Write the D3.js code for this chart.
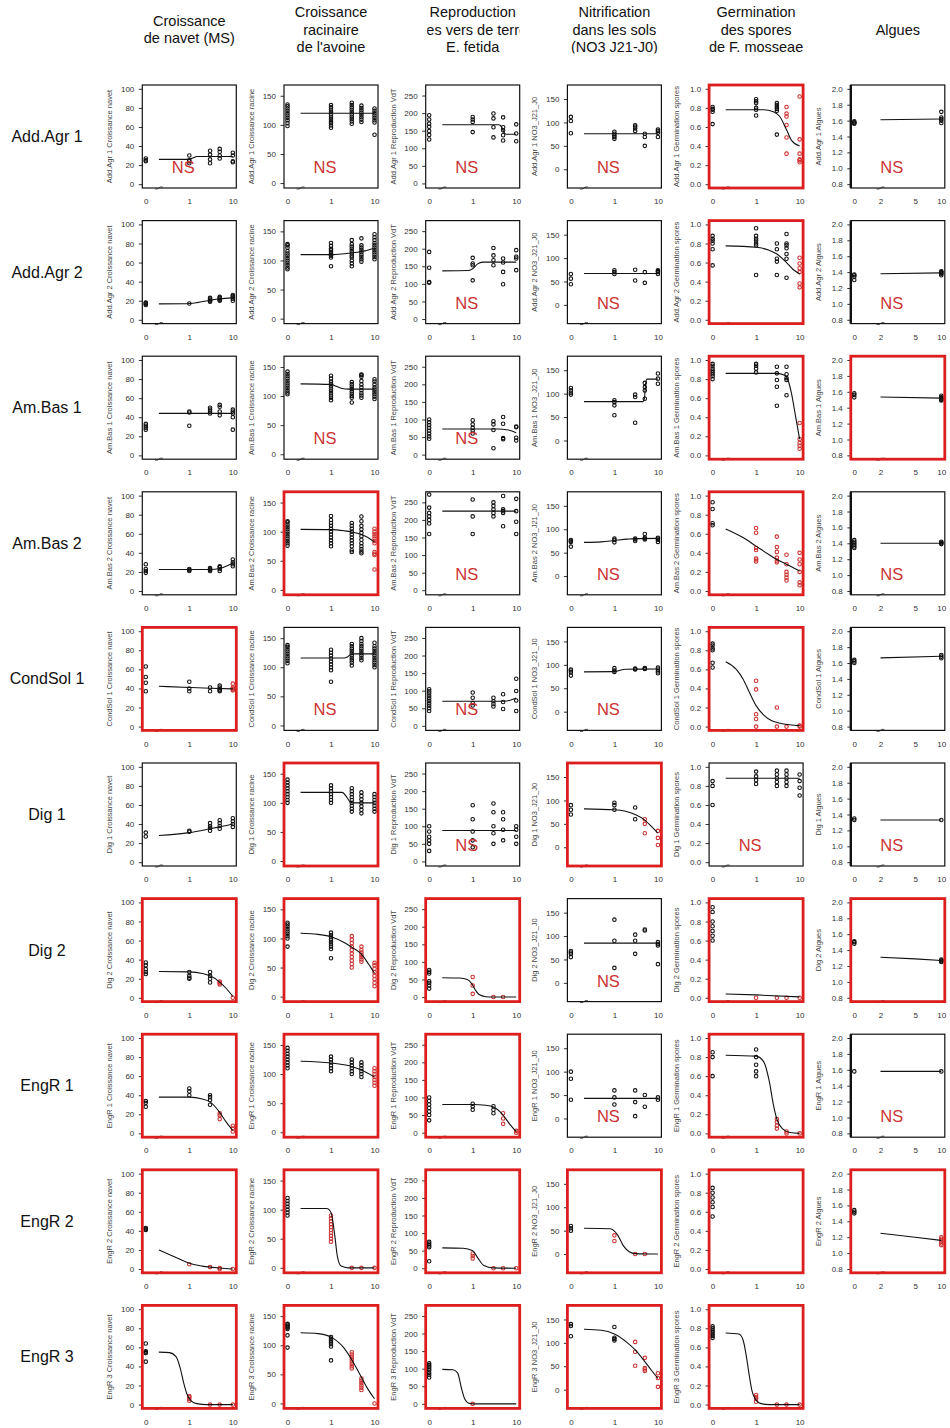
<!DOCTYPE html>
<html><head><meta charset="utf-8">
<script src="https://cdn.jsdelivr.net/npm/d3@7"></script>
<style>body{margin:0;background:#fff;} svg{display:block;font-family:"Liberation Sans",Arial,sans-serif;}</style>
</head><body><svg id="c" width="950" height="1428"></svg>
<script>
// ---------- labels ----------
const rowLabels = ["Add.Agr 1","Add.Agr 2","Am.Bas 1","Am.Bas 2","CondSol 1","Dig 1","Dig 2","EngR 1","EngR 2","EngR 3"];
const colTitles = [["Croissance","de navet (MS)"],["Croissance","racinaire","de l'avoine"],["Reproduction","des vers de terre","E. fetida"],["Nitrification","dans les sols","(NO3 J21-J0)"],["Germination","des spores","de F. mosseae"],["Algues"]];
const yLabelSuffix = ["Croissance navet","Croissance racine","Reproduction VdT","NO3_J21_J0","Germination spores","Algues"];
const yTicks = [[0,20,40,60,80,100],[0,50,100,150],[0,50,100,150,200,250],[0,50,100,150],[0,0.2,0.4,0.6,0.8,1.0],[0.8,1.0,1.2,1.4,1.6,1.8,2.0]];
const yDomains = [[-4,104],[-8.5,168.5],[-13,280],[-40,180],[-0.04,1.04],[0.752,2.048]];
const xTicksDose = [0,1,10];
const xTicksAlgues = [0,2,5,10];

// ---------- data: per row, 6 panels {s: significant, ns: NS label, p: [dose, red, values], c: fitted curve [dose, value]} ----------
const addAgr1 = [
 {s:0,ns:1,p:[[0,0,[24,25,27]],[1,0,[22,24,25,30]],[3,0,[22,26,31,35]],[5,0,[27,30,34,37]],[10,0,[23,24,30,33]]],c:[[0.2,26],[1,26],[1.2,27.5],[1.5,29],[10,29]]},
 {s:0,ns:1,p:[[0,0,[98,103,108,112,116,120,124,128,132,135]],[1,0,[95,99,103,106,110,114,118,122,126,130,134]],[3,0,[102,106,110,114,118,122,126,130,134,138]],[5,0,[105,109,113,117,121,125,129,133]],[10,0,[83,104,108,112,116,120,124,128]]],c:[[0.2,120],[10,120]]},
 {s:0,ns:1,p:[[0,0,[125,138,149,161,170,182,194]],[1,0,[146,175,182,189]],[3,0,[131,160,185,199]],[5,0,[122,137,151,160,188]],[10,0,[120,142,168]]],c:[[0.2,167],[4,167],[4.6,161],[5.2,146],[5.8,140],[10,140]]},
 {s:0,ns:1,p:[[0,0,[77,103,112]],[1,0,[65,69,72,76,80]],[3,0,[82,87,91,94]],[5,0,[50,69,76]],[10,0,[69,78,82,85]]],c:[[0.2,76],[10,76]]},
 {s:1,ns:0,p:[[0,0,[0.63,0.76,0.78,0.79,0.81]],[1,0,[0.72,0.78,0.80,0.85,0.87,0.89]],[3,0,[0.52,0.77,0.79,0.81,0.83,0.85]],[5,1,[0.32,0.49,0.62,0.71,0.74,0.81]],[10,1,[0.23,0.25,0.26,0.32,0.47,0.92]]],c:[[0.2,0.78],[1.5,0.78],[2.5,0.76],[3.5,0.71],[5,0.57],[6.5,0.46],[10,0.40]]},
 {s:0,ns:1,p:[[0,0,[1.56,1.57,1.58,1.59]],[10,0,[1.57,1.60,1.62,1.64,1.71]]],c:[[2,1.61],[10,1.62]]}
];
const addAgr2 = [
 {s:0,ns:0,p:[[0,0,[15.5,16.5,17.5,18]],[1,0,[17]],[3,0,[19,20,21,22,23]],[5,0,[20,21,22,23,24]],[10,0,[20,22,24,25,26]]],c:[[0.2,16.7],[0.8,16.8],[1.5,18],[3,20.5],[5,22],[10,23]]},
 {s:0,ns:0,p:[[0,0,[85,88,92,96,100,104,108,112,116,122,126,128]],[1,0,[90,105,108,110,112,115,118,120,125,130]],[3,0,[90,95,100,105,108,112,116,120,124,128,135]],[5,0,[98,102,106,110,114,118,122,126,138]],[10,0,[102,106,110,114,118,122,126,130,135,140,145]]],c:[[0.2,110],[1,110],[2,111.5],[4,114],[6,116.5],[10,121]]},
 {s:0,ns:1,p:[[0,0,[103,105,146,191]],[1,0,[110,153,158,174]],[3,0,[153,167,181,202]],[5,0,[99,134,161,172]],[10,0,[139,172,177,196]]],c:[[0.2,137],[0.8,138],[1,143],[1.3,157],[1.7,162],[10,162]]},
 {s:0,ns:1,p:[[0,0,[44,56,66]],[1,0,[66,70,74]],[3,0,[52,75]],[5,0,[47,70]],[10,0,[66,70,72,74]]],c:[[0.2,67],[10,67]]},
 {s:1,ns:0,p:[[0,0,[0.57,0.74,0.80,0.83,0.85,0.88]],[1,0,[0.47,0.78,0.80,0.83,0.85,0.88,0.96]],[3,0,[0.47,0.61,0.64,0.74,0.80]],[5,0,[0.44,0.64,0.69,0.75,0.78,0.80,0.90]],[10,1,[0.34,0.38,0.50,0.54,0.59,0.65]]],c:[[0.2,0.775],[1,0.76],[2,0.73],[3,0.69],[5,0.60],[7,0.53],[10,0.48]]},
 {s:0,ns:1,p:[[0,0,[1.30,1.34,1.36,1.37]],[10,0,[1.36,1.38,1.39,1.40,1.41]]],c:[[2,1.38],[10,1.39]]}
];
const amBas1 = [
 {s:0,ns:0,p:[[0,0,[27,29,31,33]],[1,0,[31,45,46]],[3,0,[44,46,48,50]],[5,0,[42,46,51,53]],[10,0,[27,40,44,46,48]]],c:[[0.2,44],[10,44]]},
 {s:0,ns:1,p:[[0,0,[103,106,110,114,118,122,126,130,134,138,142]],[1,0,[93,97,101,105,109,113,117,121,125,130,135]],[3,0,[89,97,100,104,108,112,116,120,124]],[5,0,[97,101,105,110,115,120,126,133,136,137]],[10,0,[95,99,103,107,111,115,120,125,129]]],c:[[0.2,121],[1,120],[1.3,117],[1.8,113],[2.5,112],[10,112]]},
 {s:0,ns:1,p:[[0,0,[45,52,60,68,76,84,92,100]],[1,0,[60,68,76,86,98]],[3,0,[18,70,86,95]],[5,0,[44,47,88,107]],[10,0,[40,48,78,80]]],c:[[0.2,73],[4,73],[6,71],[8,67],[10,62]]},
 {s:0,ns:0,p:[[0,0,[98,102,107,112]],[1,0,[54,75,82,86]],[3,0,[38,93,98]],[5,0,[89,107,114,123]],[10,0,[121,132,143]]],c:[[0.2,83],[4.5,83],[4.9,90],[5.2,120],[5.6,131],[10,131]]},
 {s:1,ns:0,p:[[0,0,[0.80,0.83,0.85,0.87,0.89,0.91,0.94,0.96]],[1,0,[0.87,0.91,0.94,0.96]],[3,0,[0.52,0.72,0.79,0.86,0.93]],[5,0,[0.63,0.79,0.81,0.85,0.93]],[10,1,[0.07,0.10,0.13,0.17,0.34]]],c:[[0.2,0.86],[3,0.86],[4.5,0.84],[5.5,0.78],[6.5,0.65],[8,0.42],[10,0.17]]},
 {s:1,ns:0,p:[[0,0,[1.53,1.56,1.58]],[10,0,[1.49,1.50,1.51,1.52,1.53,1.55]]],c:[[2,1.535],[10,1.52]]}
];
const amBas2 = [
 {s:0,ns:0,p:[[0,0,[19,21,23,28]],[1,0,[21,22,23]],[3,0,[21,22,23,24]],[5,0,[21,23,25,26]],[10,0,[26,28,30,33]]],c:[[0.2,22.5],[3,22.6],[5,23.5],[7,26],[10,29]]},
 {s:1,ns:0,p:[[0,0,[76,80,84,88,92,96,100,104,108,112,116,118]],[1,0,[75,80,85,90,95,100,105,110,115,120,127]],[3,0,[65,68,75,80,85,90,95,100,105,110,115]],[5,0,[63,66,70,75,80,86,92,98,104,110,118,126]],[10,1,[35,60,62,65,80,84,88,92,96,100,105]]],c:[[0.2,104],[1,103.5],[2,101.5],[3,99.5],[5,95],[7,90],[10,82]]},
 {s:0,ns:1,p:[[0,0,[160,190,200,210,220,235,272]],[1,0,[160,210,258]],[3,0,[210,220,230,240,250]],[5,0,[182,220,225,230,268]],[10,0,[160,195,225,260]]],c:[[0.2,225],[10,225]]},
 {s:0,ns:1,p:[[0,0,[63,73,75,77]],[1,0,[72,77,80]],[3,0,[75,78,80]],[5,0,[78,80,82,90]],[10,0,[73,77,80,82]]],c:[[0.2,72],[0.5,73],[1,76],[2,79],[3,80],[10,80.5]]},
 {s:1,ns:0,p:[[0,0,[0.69,0.71,0.86,0.93]],[1,1,[0.31,0.33,0.34,0.43,0.45,0.61,0.66]],[3,1,[0.30,0.32,0.35,0.41,0.46,0.57]],[5,1,[0.11,0.14,0.17,0.20,0.28,0.38]],[10,1,[0.06,0.09,0.20,0.28,0.33,0.40]]],c:[[0.2,0.65],[0.5,0.56],[1,0.47],[2,0.38],[3,0.33],[5,0.28],[10,0.21]]},
 {s:0,ns:1,p:[[0,0,[1.34,1.36,1.38,1.40,1.42,1.44]],[10,0,[1.39,1.40,1.41,1.42]]],c:[[2,1.40],[10,1.40]]}
];
const condSol1 = [
 {s:1,ns:0,p:[[0,0,[37,46,52,63]],[1,0,[37,40,47]],[3,0,[37,41]],[5,0,[37,38,39,41,43]],[10,1,[38,39,40,41,45]]],c:[[0.2,42.3],[1,41],[3,40.2],[10,39.5]]},
 {s:0,ns:1,p:[[0,0,[107,111,115,119,123,127,131,135,138]],[1,0,[75,95,100,105,110,115,120,125,130]],[3,0,[103,108,112,116,120,124,128,132,136,140]],[5,0,[112,116,120,124,128,132,136,140,145,150]],[10,0,[100,104,108,112,116,120,124,128,132,136,142]]],c:[[0.2,116],[2,116],[2.3,117],[2.7,121],[3,123],[10,123]]},
 {s:0,ns:1,p:[[0,0,[42,50,57,64,71,78,85,92,98,104]],[1,0,[58,65,80,95]],[3,0,[55,62,70,80]],[5,0,[48,68,90]],[10,0,[42,72,99,134]]],c:[[0.2,70],[5,70],[7,72],[10,79]]},
 {s:0,ns:1,p:[[0,0,[77,84,88,90]],[1,0,[85,88,93]],[3,0,[90,91,92]],[5,0,[91,92,93]],[10,0,[82,86,90,94]]],c:[[0.2,85],[1,85.5],[1.3,88],[1.8,90.5],[10,91]]},
 {s:1,ns:0,p:[[0,0,[0.62,0.67,0.80,0.82,0.85,0.87]],[1,1,[0.00,0.08,0.13,0.39,0.48]],[3,1,[0.00,0.20]],[5,1,[0.00]],[10,1,[0.00,0.01]]],c:[[0.2,0.68],[0.35,0.6],[0.5,0.5],[0.7,0.36],[1,0.22],[1.5,0.12],[2.3,0.06],[4,0.03],[10,0.01]]},
 {s:0,ns:0,p:[[0,0,[1.60,1.62,1.64]],[10,0,[1.66,1.68,1.70]]],c:[[2,1.665],[10,1.685]]}
];
const dig1 = [
 {s:0,ns:0,p:[[0,0,[27,31]],[1,0,[32,33]],[3,0,[33,36,38,41]],[5,0,[35,38,41,44]],[10,0,[37,40,43,46]]],c:[[0.2,28],[1,31],[3,35],[5,37],[10,40]]},
 {s:1,ns:0,p:[[0,0,[100,105,110,115,120,125,130,135,140]],[1,0,[100,105,110,115,120,125,130]],[3,0,[85,90,95,100,105,110,115,120,125]],[5,0,[82,88,94,100,106,112,118]],[10,0,[85,90,95,100,105,110,115]]],c:[[0.2,118],[1.8,118],[2.3,110],[2.8,101],[3.5,100],[10,100]]},
 {s:0,ns:1,p:[[0,0,[30,50,60,70,85,100]],[1,0,[40,60,85,120,160]],[3,0,[50,80,100,140,165]],[5,0,[60,90,120,140]],[10,0,[50,70,90,100]]],c:[[0.2,88],[10,88]]},
 {s:1,ns:0,p:[[0,0,[70,80,90]],[1,0,[80,90,95]],[3,0,[60,85]],[5,1,[30,50,60]],[10,1,[5,20,35]]],c:[[0.2,82],[1,80],[3,70],[5,58],[7,45],[10,30]]},
 {s:0,ns:1,p:[[0,0,[0.60,0.80,0.85]],[1,0,[0.82,0.86,0.90,0.95]],[3,0,[0.80,0.84,0.88,0.92,0.96]],[5,0,[0.80,0.84,0.88,0.92,0.96]],[10,0,[0.70,0.78,0.85,0.92]]],c:[[0.2,0.88],[10,0.88]]},
 {s:0,ns:1,p:[[0,0,[1.33,1.35]],[10,0,[1.33]]],c:[[2,1.33],[10,1.33]]}
];
const dig2 = [
 {s:1,ns:0,p:[[0,0,[25,27,30,34,37]],[1,0,[20,21,23,27]],[3,0,[16,20,23,27]],[5,1,[14,15,16,17]],[10,1,[0]]],c:[[0.2,27.5],[1,27.2],[2,25.5],[3,23],[5,16.5],[7,10],[10,1.5]]},
 {s:1,ns:0,p:[[0,0,[86,100,104,108,112,116,120,124,127]],[1,0,[66,82,86,90,94,98,102,106,110]],[3,1,[50,56,62,68,74,80,86,92,98,104]],[5,1,[60,64,68,72,76,80,86]],[10,1,[18,24,30,36,42,48,54,58]]],c:[[0.2,109],[0.5,107],[1,103],[2,93],[3,85],[5,73],[7,58],[10,40]]},
 {s:1,ns:0,p:[[0,0,[24,33,40,45,67,72,77]],[1,1,[9,33,57]],[3,1,[0]],[5,1,[0]]],c:[[0.2,55],[0.5,54],[0.75,50],[0.95,38],[1.15,20],[1.4,7],[2,1],[3,0],[10,0]]},
 {s:0,ns:1,p:[[0,0,[55,62,65,68]],[1,0,[32,90,135]],[3,0,[62,90,103]],[5,0,[112,114]],[10,0,[40,80,83,87]]],c:[[0.2,85],[10,85]]},
 {s:1,ns:0,p:[[0,0,[0.60,0.65,0.70,0.75,0.80,0.90,0.95]],[1,1,[0]],[3,1,[0]],[5,1,[0]],[10,1,[0]]],c:[[0.2,0.04],[1,0.03],[10,0.01]]},
 {s:1,ns:0,p:[[0,0,[1.48,1.50,1.51]],[10,0,[1.25,1.26,1.27,1.28]]],c:[[2,1.31],[5,1.29],[10,1.27]]}
];
const engR1 = [
 {s:1,ns:0,p:[[0,0,[28,32,34]],[1,0,[40,44,47]],[3,0,[30,35,38,40]],[5,1,[15,19,21]],[10,1,[2,5,8]]],c:[[0.2,38],[1,38],[2,36],[3,33],[5,22],[7,12],[10,3]]},
 {s:1,ns:0,p:[[0,0,[110,115,120,125,130,135,140,145]],[1,0,[105,110,115,120,125,130]],[3,0,[100,105,110,115,120,125]],[5,0,[95,100,105,110,115,120]],[10,1,[80,85,90,95,100,105,110]]],c:[[0.2,122],[1,119],[3,113],[5,107],[10,95]]},
 {s:1,ns:0,p:[[0,0,[35,50,60,70,80,90,100]],[1,0,[65,75,82]],[3,0,[55,65,75]],[5,1,[25,40,55]],[10,1,[0,5]]],c:[[0.2,80],[1,80],[2,78],[3,73],[5,50],[7,25],[10,3]]},
 {s:0,ns:1,p:[[0,0,[40,85,100]],[1,0,[30,45,60]],[3,0,[5,35,60]],[5,0,[25,50]],[10,0,[40,45]]],c:[[0.2,43],[10,43]]},
 {s:1,ns:0,p:[[0,0,[0.60,0.80,0.85]],[1,0,[0.60,0.65,0.72,0.80,0.88]],[3,1,[0.05,0.08,0.12,0.15]],[5,1,[0,0.02]],[10,1,[0]]],c:[[0.2,0.82],[1,0.81],[1.5,0.75],[2,0.55],[2.5,0.3],[3,0.15],[4,0.05],[6,0.01],[10,0]]},
 {s:0,ns:1,p:[[0,0,[1.58]],[10,0,[1.58]]],c:[[2,1.58],[10,1.58]]}
];
const engR2 = [
 {s:1,ns:0,p:[[0,0,[41,42,43]],[1,1,[5]],[3,1,[2]],[5,1,[0,1]],[10,1,[0]]],c:[[0.2,20],[0.4,14],[0.7,9],[1,6],[2,3],[5,1],[10,0]]},
 {s:1,ns:0,p:[[0,0,[90,95,100,105,110,115,120]],[1,1,[45,50,55,60,65,70,75,80,85,90]],[3,1,[0]],[5,1,[0]],[10,1,[0]]],c:[[0.2,102],[0.8,102],[1,95],[1.2,60],[1.4,20],[1.7,3],[2.5,0],[10,0]]},
 {s:1,ns:0,p:[[0,0,[20,60,65,70,75]],[1,1,[28,35,42]],[3,1,[0]],[5,1,[0]],[10,1,[0]]],c:[[0.2,58],[0.6,57],[1,50],[1.3,30],[1.8,8],[3,1],[10,0]]},
 {s:1,ns:0,p:[[0,0,[50,55,60]],[1,1,[28,40]],[3,1,[0]],[5,1,[0]]],c:[[0.2,55],[0.8,54],[1.2,40],[1.6,18],[2.2,5],[3,1],[10,0]]},
 {s:1,ns:0,p:[[0,0,[0.55,0.65,0.70,0.75,0.80,0.85]]],c:[]},
 {s:1,ns:0,p:[[0,0,[1.50,1.52,1.54]],[10,1,[1.10,1.12,1.14,1.16,1.18,1.20]]],c:[[2,1.25],[5,1.20],[10,1.16]]}
];
const engR3 = [
 {s:1,ns:0,p:[[0,0,[45,54,55,56,64]],[1,1,[4,6,8,9]],[3,1,[0]],[5,1,[0]],[10,1,[0]]],c:[[0.2,55],[0.35,54.5],[0.5,50],[0.62,38],[0.75,22],[0.9,10],[1.1,4],[1.5,1],[2.5,0],[10,0]]},
 {s:1,ns:0,p:[[0,0,[96,117,128,130,132,134,136,137]],[1,0,[74,98,102,105,108,111,114]],[3,1,[60,64,68,72,76,80,84,88]],[5,1,[23,27,31,35,39,43]],[10,1,[0]]],c:[[0.2,121.5],[0.5,120],[1,114],[2,95],[3,75],[5,45],[7,25],[10,8]]},
 {s:1,ns:0,p:[[0,0,[75,82,88,95,100,105,110,115]],[1,1,[0]]],c:[[0.2,98],[0.35,97],[0.45,88],[0.55,45],[0.65,15],[0.75,4],[0.9,0.5],[1.2,0],[10,0]]},
 {s:1,ns:0,p:[[0,0,[114,136,140]],[1,0,[105,108,111,134]],[3,1,[51,81,102]],[5,1,[40,43,46,68]],[10,1,[6,25,35]]],c:[[0.2,129],[0.5,127],[1,119],[2,100],[3,85],[5,60],[7,42],[10,24]]},
 {s:1,ns:0,p:[[0,0,[0.70,0.72,0.74,0.76,0.78,0.80,0.82]],[1,1,[0.03,0.06,0.08,0.10]],[3,1,[0]],[5,1,[0]],[10,1,[0]]],c:[[0.2,0.75],[0.4,0.74],[0.5,0.68],[0.6,0.5],[0.7,0.3],[0.8,0.15],[0.95,0.06],[1.3,0.01],[2,0],[10,0]]},
 null
];
const allRows = [addAgr1, addAgr2, amBas1, amBas2, condSol1, dig1, dig2, engR1, engR2, engR3];

// ---------- layout ----------
const L0 = 142.3, CS = 141.7, W = 94, T0 = 85, RS = 135.6, H = 103;
const RED = "#dc1e1e", PRED = "#cc3333", NSCOL = "#cc3333";
const svg = d3.select("#c");
const defs = svg.append("defs");

// column titles
colTitles.forEach((lines, c) => {
  const L = L0 + c * CS;
  const cid = "tclip" + c;
  const narrow = (c === 2);
  defs.append("clipPath").attr("id", cid).append("rect")
    .attr("x", narrow ? L + 1.5 : L - 40).attr("y", 0)
    .attr("width", narrow ? W - 1.5 : W + 80).attr("height", 53.5);
  const g = svg.append("g").attr("clip-path", `url(#${cid})`);
  const n = lines.length;
  lines.forEach((t, i) => {
    g.append("text").attr("x", L + W / 2).attr("y", 29.5 + (i - (n - 1) / 2) * 17.5 + 5)
      .attr("text-anchor", "middle").attr("font-size", 14.5).attr("fill", "#111").text(t);
  });
});

// row labels
rowLabels.forEach((lab, r) => {
  svg.append("text").attr("x", 47).attr("y", T0 + r * RS + H / 2 + 5.5)
    .attr("text-anchor", "middle").attr("font-size", 16).attr("fill", "#111").text(lab);
});

const fmt1 = d3.format(".1f");
function drawPanel(p, r, c) {
  const L = L0 + c * CS, T = T0 + r * RS;
  const alg = (c === 5);
  const xd = d => d === 0 ? (alg ? 0 : -1) : Math.log10(d);
  const x = d3.scaleLinear().domain(alg ? [-0.04, 1.04] : [-1.08, 1.08]).range([L, L + W]);
  const y = d3.scaleLinear().domain(yDomains[c]).range([T + H, T]);
  const g = svg.append("g");

  // y axis
  g.append("g").attr("transform", `translate(${L},0)`)
    .call(d3.axisLeft(y).tickValues(yTicks[c]).tickSize(3.5).tickPadding(4.5)
      .tickFormat(c >= 4 ? fmt1 : d3.format("d")))
    .call(a => {
      a.select(".domain").remove();
      a.selectAll("line").attr("stroke", "#333");
      a.selectAll("text").attr("font-size", 8).attr("fill", "#333").attr("font-family", "Liberation Sans, Arial, sans-serif");
    });
  // x labels
  const xt = alg ? xTicksAlgues : xTicksDose;
  g.append("g").attr("transform", `translate(0,${T + H})`)
    .call(d3.axisBottom(x).tickValues(xt.map(xd)).tickFormat((v, i) => xt[i]).tickSize(0).tickPadding(10.5))
    .call(a => {
      a.select(".domain").remove();
      a.selectAll("text").attr("font-size", 8).attr("fill", "#333").attr("font-family", "Liberation Sans, Arial, sans-serif");
    });
  // y label
  g.append("text").attr("transform", `translate(${L - 30},${T + H / 2}) rotate(-90)`)
    .attr("text-anchor", "middle").attr("font-size", 7.5).attr("fill", "#444")
    .text(rowLabels[r] + " " + yLabelSuffix[c]);

  // points
  const pts = [];
  p.p.forEach(([d, red, vals]) => vals.forEach(v => pts.push({ d, red, v })));
  g.selectAll("circle.pt").data(pts).join("circle").attr("class", "pt")
    .attr("cx", q => x(xd(q.d))).attr("cy", q => y(q.v)).attr("r", 1.75)
    .attr("fill", "none").attr("stroke", q => q.red ? PRED : "#111").attr("stroke-width", 1.1);

  // fitted curve
  if (p.c.length) {
    const line = d3.line().x(q => x(xd(q[0]))).y(q => y(q[1])).curve(d3.curveMonotoneX);
    g.append("path").attr("d", line(p.c)).attr("fill", "none").attr("stroke", "#111").attr("stroke-width", 1.1);
  }

  // axis break mark
  const bx = x(alg ? Math.log10(2) : Math.log10(0.2)), by = T + H;
  g.append("path").attr("d", `M${bx - 4},${by + 1} L${bx - 1},${by + 1} L${bx + 1},${by - 1} L${bx + 4},${by - 1}`)
    .attr("fill", "none").attr("stroke", "#333").attr("stroke-width", 0.8);

  // box
  g.append("rect").attr("x", L).attr("y", T).attr("width", W).attr("height", H)
    .attr("fill", "none").attr("stroke", p.s ? RED : "#111").attr("stroke-width", p.s ? 2.8 : 1.2);
  if (alg && !p.s) {
    g.append("line").attr("x1", L).attr("x2", L).attr("y1", T).attr("y2", T + H)
      .attr("stroke", "#111").attr("stroke-width", 2.4);
  }

  if (p.ns) {
    g.append("text").attr("x", L + 41).attr("y", T + 88).attr("text-anchor", "middle")
      .attr("font-size", 16.5).attr("fill", NSCOL).text("NS");
  }
}

allRows.forEach((row, r) => row.forEach((p, c) => { if (p) drawPanel(p, r, c); }));
</script></body></html>
